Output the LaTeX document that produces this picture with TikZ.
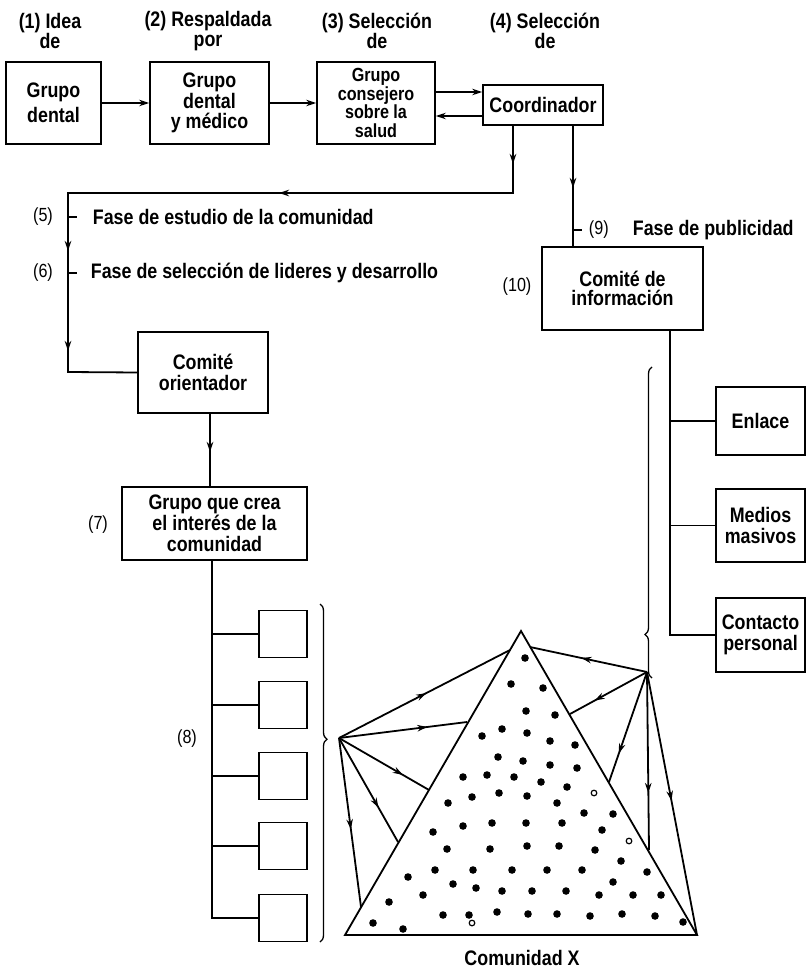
\documentclass[tikz,border=0pt]{standalone}
\usepackage{fontspec}
\setmainfont{Liberation Sans}[FakeStretch=0.85]
\usetikzlibrary{arrows.meta,decorations.markings,decorations.pathreplacing,calc}
\newcommand\bxfont{\fontsize{21}{20.5}\selectfont\bfseries}
\newcommand\nmfont{\fontsize{19}{20}\selectfont}
\begin{document}
\begin{tikzpicture}[x=1pt,y=-1pt,line width=1.8pt,line join=miter,
  >={Stealth[length=10pt,width=6.5pt]},
  box/.style={draw,align=center,inner sep=0pt,font=\bxfont},
  sq/.style={draw,minimum width=48,minimum height=47,inner sep=0pt},
  txt/.style={align=center,inner sep=0pt,font=\bxfont},
  num/.style={inner sep=0pt,font=\nmfont},
  arr/.style={->},
  ma/.style={postaction={decorate,decoration={markings,mark=at position #1 with {\arrow{>}}}}},
  brc/.style={decorate,decoration={brace,amplitude=7pt,aspect=#1}}]
\fill[white] (0,0) rectangle (807,973);
\useasboundingbox (0,0) rectangle (807,973);

% headers
\node[txt] (h1) at (50,31) {(1) Idea\\de};
\node[txt] (h2) at (208,31) {(2) Respaldada\\por};
\node[txt] (h3) at (377,31) {(3) Selección\\de};
\node[txt] (h4) at (545,31) {(4) Selección\\de};

% top boxes
\node[box,minimum width=95,minimum height=82,font=\fontsize{21}{25}\selectfont\bfseries] (b1) at (53.5,103) {Grupo\\dental};
\node[box,minimum width=119,minimum height=82] (b2) at (209.5,103) {Grupo\\dental\\y médico};
\node[box,minimum width=118,minimum height=82,font=\fontsize{19}{18.5}\selectfont\bfseries] (b3) at (376,103) {Grupo\\consejero\\sobre la\\salud};
\node[box,minimum width=120,minimum height=40] (coord) at (543,105) {Coordinador};

\draw[arr] (b1) -- (b2);
\draw[arr] (b2) -- (b3);
\draw[arr] ($(b3.east)+(0,-11)$) -- ($(coord.west)+(0,-13)$);
\draw[arr] ($(coord.west)+(0,11)$) -- ($(b3.east)+(0,13)$);

% left branch
\coordinate (k1) at (513,193);
\coordinate (k2) at (68,193);
\coordinate (k3) at (68,372);
\node[box,minimum width=130,minimum height=81] (orient) at (203,372.5) {Comité\\orientador};
\draw[ma=38pt,ma=301pt,ma=570pt,ma=670pt] (coord.south -| k1) -- (k1) -- (k2) -- (k3) -- (orient.west);
\coordinate (t5) at (68,217);
\coordinate (t6) at (68,273);
\draw[line width=1.2pt] (t5) -- ++(9,0);
\draw[line width=1.2pt] (t6) -- ++(9,0);
\node[num] (n5) at (43,217) {(5)};
\node[num] (n6) at (43,273) {(6)};
\node[txt,anchor=west] (f5) at (92,217) {Fase de estudio de la comunidad};
\node[txt,anchor=west] (f6) at (90,273) {Fase de selección de lideres y desarrollo};

% right branch
\coordinate (rx) at (573,0);
\node[box,minimum width=161,minimum height=83,font=\fontsize{21}{19}\selectfont\bfseries] (info) at (622.5,288.5) {Comité de\\información};
\draw[ma=62pt] (coord.south -| rx) -- (info.north -| rx);
\coordinate (t9) at (573,230);
\draw[line width=1.2pt] (t9) -- ++(9,0);
\node[num,anchor=west] (n9) at (588,230) {(9)};
\node[txt,anchor=west] (f9) at (632,230) {Fase de publicidad};
\node[num] (n10) at (517,287) {(10)};

% comite orientador -> grupo 7
\coordinate (cx) at (210,0);
\node[box,minimum width=185,minimum height=73,font=\fontsize{21}{21}\selectfont\bfseries] (b7) at (214.5,523.5) {Grupo que crea\\el interés de la\\comunidad};
\draw[ma=38pt] (orient.south -| cx) -- (b7.north -| cx);
\node[num] (n7) at (98,525) {(7)};

% small boxes
\node[sq] (s1) at (283,634) {};
\node[sq] (s2) at (283,705) {};
\node[sq] (s3) at (283,776) {};
\node[sq] (s4) at (283,846) {};
\node[sq] (s5) at (283,918) {};
\coordinate (v7) at (212,0);
\draw (b7.south -| v7) -- (s5.west -| v7) -- (s5.west);
\foreach \s in {s1,s2,s3,s4} \draw (\s.west -| v7) -- (\s.west);
\coordinate (bra) at (320,604);
\coordinate (brb) at (320,942);
\draw[brc=0.4,line width=1.3pt] (bra) -- (brb);
\node[num] (n8) at (187,739) {(8)};

% information boxes
\node[box,minimum width=89,minimum height=68] (enl) at (760.5,421) {Enlace};
\node[box,minimum width=89,minimum height=73] (med) at (760.5,525.5) {Medios\\masivos};
\node[box,minimum width=89,minimum height=74] (con) at (760.5,635) {Contacto\\personal};
\coordinate (vi) at (670,0);
\draw (info.south -| vi) -- (con.west -| vi) -- (con.west);
\draw (enl.west -| vi) -- (enl.west);
\draw (med.west -| vi) -- (med.west);
\coordinate (brc1) at (652,678);
\coordinate (brc2) at (652,367);
\draw[brc=0.14,line width=1.3pt] (brc1) -- (brc2);

% pyramid
\coordinate (A) at (521,631);
\coordinate (BL) at (345,935);
\coordinate (BR) at (697,935);
\draw (A) -- (BL) -- (BR) -- cycle;
\coordinate (L) at (339,738);
\coordinate (R) at (647,672);
\coordinate (l1) at (510,650);
\coordinate (l2) at (467,722);
\coordinate (l3) at (429,790);
\coordinate (l4) at (398,842);
\coordinate (l5) at (361,907);
\coordinate (r1) at (530,647);
\coordinate (r2) at (570,714);
\coordinate (r3) at (609,782);
\coordinate (r4) at (649,850);
\draw[ma=0.51] (L) -- (l1);
\draw[ma=0.69] (L) -- (l2);
\draw[ma=0.71] (L) -- (l3);
\draw[ma=0.67] (L) -- (l4);
\draw[ma=0.54] (L) -- (l5);
\draw[ma=0.56] (R) -- (r1);
\draw[ma=0.68] (R) -- (r2);
\draw[ma=0.74] (R) -- (r3);
\draw[ma=0.68] (R) -- (r4);
\draw[ma=0.49] (R) -- (BR);

% dots
\foreach \x/\y in {525/658, 511/684, 543/688, 526/711, 555/715,
  482/736, 502/729, 527/733, 550/741, 575/745,
  498/757, 523/761, 550/765, 577/768,
  463/777, 487/775, 514/777, 541/782, 567/787,
  448/803, 472/797, 499/793, 527/796, 557/803, 584/813, 613/814,
  433/832, 463/826, 492/823, 526/823, 562/823, 602/830,
  447/849, 490/849, 527/846, 559/846, 595/850, 621/861,
  408/877, 435/870, 473/870, 512/870, 547/870, 582/870, 613/882, 647/872,
  389/902, 423/895, 453/884, 476/888, 502/891, 532/891, 566/891, 599/895, 633/895, 661/895,
  373/923, 403/929, 443/915, 469/915, 497/912, 528/914, 557/914, 590/916, 622/914, 655/916, 683/922}
  \fill (\x,\y) circle[radius=3.8pt];
\foreach \x/\y in {594/793, 629/841, 472/923}
  \draw[line width=1.2pt] (\x,\y) circle[radius=2.8pt];

\node[txt] (comx) at (522,958) {Comunidad X};
\end{tikzpicture}
\end{document}
